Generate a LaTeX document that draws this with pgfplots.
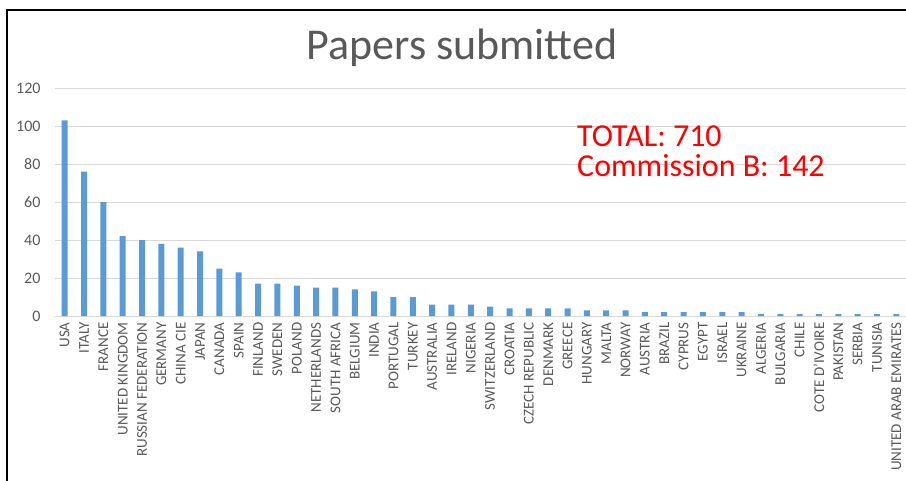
\documentclass[border=0pt]{standalone}
\usepackage{fontspec}
\setmainfont{Carlito}
\usepackage{pgfplots}
\pgfplotsset{compat=1.18}
\definecolor{barblue}{HTML}{5B9BD5}
\definecolor{txtgray}{HTML}{595959}
\definecolor{gridgray}{HTML}{D9D9D9}
\begin{document}
\begin{tikzpicture}[x=1pt,y=1pt]
\useasboundingbox (0,0) rectangle (906,480);
\draw[line width=2pt,black] (7,-2) -- (7,470) -- (908,470);
\begin{axis}[
  at={(55pt,164pt)}, anchor=south west,
  scale only axis, width=851pt, height=228pt,
  xmin=-0.5, xmax=43.5, ymin=0, ymax=120,
  ytick={0,20,...,120},
  xtick={0,...,43},
  xticklabels={USA,ITALY,FRANCE,UNITED KINGDOM,RUSSIAN FEDERATION,GERMANY,CHINA CIE,JAPAN,CANADA,SPAIN,FINLAND,SWEDEN,POLAND,NETHERLANDS,SOUTH AFRICA,BELGIUM,INDIA,PORTUGAL,TURKEY,AUSTRALIA,IRELAND,NIGERIA,SWITZERLAND,CROATIA,CZECH REPUBLIC,DENMARK,GREECE,HUNGARY,MALTA,NORWAY,AUSTRIA,BRAZIL,CYPRUS,EGYPT,ISRAEL,UKRAINE,ALGERIA,BULGARIA,CHILE,COTE D'IVOIRE,PAKISTAN,SERBIA,TUNISIA,UNITED ARAB EMIRATES},
  x tick label style={rotate=90, anchor=east, font=\fontsize{15}{17}\selectfont, text=txtgray, xshift=-3pt},
  y tick label style={font=\fontsize{16}{18}\selectfont, text=txtgray, xshift=-11pt},
  /pgf/number format/assume math mode=true,
  major tick length=0pt,
  ymajorgrids, grid style={gridgray, line width=1pt},
  axis lines*=left,
  y axis line style={draw=none},
  x axis line style={gridgray, line width=1pt, -},
  clip=false,
]
\addplot[ybar, bar width=6pt, fill=barblue, draw=none] coordinates {
(0,103) (1,76) (2,60) (3,42) (4,40) (5,38) (6,36) (7,34) (8,25) (9,23)
(10,17) (11,17) (12,16) (13,15) (14,15) (15,14) (16,13) (17,10) (18,10) (19,6)
(20,6) (21,6) (22,5) (23,4) (24,4) (25,4) (26,4) (27,3) (28,3) (29,3)
(30,2) (31,2) (32,2) (33,2) (34,2) (35,2) (36,1) (37,1) (38,1) (39,1)
(40,1) (41,1) (42,1) (43,1)
};
\end{axis}
\node[anchor=base, text=txtgray, font=\fontsize{44}{48}\selectfont] at (462,420) {Papers submitted};
\node[anchor=base west, inner sep=0pt, text=red, font=\fontsize{32}{35}\selectfont] at (577,333) {TOTAL: 710};
\node[anchor=base west, inner sep=0pt, text=red, font=\fontsize{32}{35}\selectfont] at (577,303) {Commission B: 142};
\end{tikzpicture}
\end{document}
